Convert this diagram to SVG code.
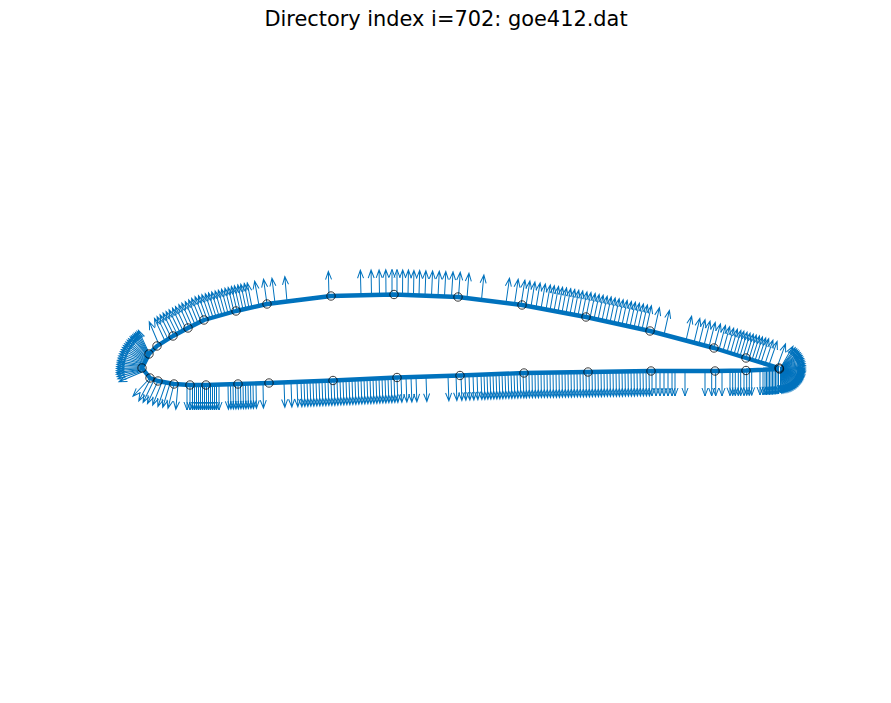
<svg xmlns="http://www.w3.org/2000/svg" width="891" height="703" viewBox="0 0 891 703">
<style>
text{font-family:"DejaVu Sans",sans-serif;font-size:20.9px;fill:#000}
.q{fill:none;stroke:#0072BD;stroke-width:1}
.c{fill:none;stroke:#0072BD;stroke-width:4.4;stroke-linejoin:round}
.m{fill:none;stroke:#000;stroke-width:.9;opacity:.85}
</style>
<defs>
<path id="u" d="M0 0V-25M-3-17L0-25 3-17"/>
<path id="d" d="M0 0V25M-3 17L0 25 3 17"/>
<g id="e1"><use href="#d" transform="rotate(-1)"/></g>
<g id="e2"><use href="#d" transform="rotate(-2)"/></g>
</defs>
<rect width="891" height="703" fill="#fff"/>
<text x="446" y="26" text-anchor="middle">Directory index i=702: goe412.dat</text>
<g id="arrows-upper-left" class="q">
<use href="#u" transform="translate(159 344.8)rotate(-23)"/>
<use href="#u" transform="translate(165 341)rotate(-25)"/>
<use href="#u" transform="translate(168 339.1)rotate(-26)"/>
<use href="#u" transform="translate(171 337.3)rotate(-26)"/>
<use href="#u" transform="translate(174 335.5)rotate(-26)"/>
<use href="#u" transform="translate(177 333.9)rotate(-26)"/>
<use href="#u" transform="translate(180 332.3)rotate(-26)"/>
<use href="#u" transform="translate(183 330.7)rotate(-25)"/>
<use href="#u" transform="translate(186 329.1)rotate(-25)"/>
<use href="#u" transform="translate(189 327.5)rotate(-24)"/>
<use href="#u" transform="translate(192 326)rotate(-24)"/>
<use href="#u" transform="translate(195 324.5)rotate(-23)"/>
<use href="#u" transform="translate(198 323)rotate(-22)"/>
<use href="#u" transform="translate(201 321.5)rotate(-22)"/>
<use href="#u" transform="translate(204 320)rotate(-21)"/>
<use href="#u" transform="translate(207 319.2)rotate(-20)"/>
<use href="#u" transform="translate(210 318.3)rotate(-19)"/>
<use href="#u" transform="translate(213 317.5)rotate(-18)"/>
<use href="#u" transform="translate(216 316.6)rotate(-17.5)"/>
<use href="#u" transform="translate(219 315.8)rotate(-17)"/>
<use href="#u" transform="translate(222 314.9)rotate(-16)"/>
<use href="#u" transform="translate(225 314.1)rotate(-15.5)"/>
<use href="#u" transform="translate(228 313.2)rotate(-15)"/>
<use href="#u" transform="translate(231 312.4)rotate(-14)"/>
<use href="#u" transform="translate(234 311.6)rotate(-13.5)"/>
<use href="#u" transform="translate(237 310.8)rotate(-13)"/>
<use href="#u" transform="translate(240 310.1)rotate(-13)"/>
<use href="#u" transform="translate(243 309.4)rotate(-12)"/>
<use href="#u" transform="translate(246 308.7)rotate(-12)"/>
<use href="#u" transform="translate(249 308)rotate(-11)"/>
<use href="#u" transform="translate(252 307.4)rotate(-11)"/>
<use href="#u" transform="translate(259 305.7)rotate(-10)"/>
<use href="#u" transform="translate(267 304)rotate(-8)"/>
<use href="#u" transform="translate(275 303)rotate(-7)"/>
<use href="#u" transform="translate(287 301.5)rotate(-5)"/>
<use href="#u" transform="translate(329 296.5)rotate(-1.5)"/>
</g>
<g id="arrows-upper-mid" class="q">
<use href="#u" transform="translate(361 295.2)rotate(-1.5)"/>
<use href="#u" transform="translate(371.5 295)rotate(-1)"/>
<use href="#u" transform="translate(379.5 294.8)rotate(-1)"/>
<use href="#u" transform="translate(386 294.7)rotate(-.5)"/>
<use href="#u" transform="translate(392 294.5)"/>
<use href="#u" transform="translate(397 294.6)"/>
<use href="#u" transform="translate(402.5 294.8)rotate(.5)"/>
<use href="#u" transform="translate(408 295)rotate(1)"/>
<use href="#u" transform="translate(413.5 295.3)rotate(1)"/>
<use href="#u" transform="translate(419 295.5)rotate(1.5)"/>
<use href="#u" transform="translate(425 295.7)rotate(2)"/>
<use href="#u" transform="translate(431.5 295.9)rotate(2.5)"/>
<use href="#u" transform="translate(438 296.2)rotate(3)"/>
<use href="#u" transform="translate(444.5 296.5)rotate(3)"/>
<use href="#u" transform="translate(451.5 296.8)rotate(3.5)"/>
<use href="#u" transform="translate(458.5 297.1)rotate(4)"/>
<use href="#u" transform="translate(467 298.1)rotate(4.5)"/>
<use href="#u" transform="translate(481.5 299.9)rotate(5.5)"/>
</g>
<g id="arrows-upper-right" class="q">
<use href="#u" transform="translate(506 303)rotate(8)"/>
<use href="#u" transform="translate(514.5 304)rotate(8.5)"/>
<use href="#u" transform="translate(521 304.8)rotate(9)"/>
<use href="#u" transform="translate(526 305.7)rotate(9)"/>
<use href="#u" transform="translate(531 306.7)rotate(9)"/>
<use href="#u" transform="translate(536 307.6)rotate(9.5)"/>
<use href="#u" transform="translate(541 308.6)rotate(10)"/>
<use href="#u" transform="translate(546 309.5)rotate(10)"/>
<use href="#u" transform="translate(550 310.3)rotate(10)"/>
<use href="#u" transform="translate(554 311)rotate(10.5)"/>
<use href="#u" transform="translate(558 311.8)rotate(10.5)"/>
<use href="#u" transform="translate(562 312.5)rotate(10.5)"/>
<use href="#u" transform="translate(566 313.2)rotate(11)"/>
<use href="#u" transform="translate(570 314)rotate(11)"/>
<use href="#u" transform="translate(574 314.8)rotate(11)"/>
<use href="#u" transform="translate(578 315.5)rotate(11)"/>
<use href="#u" transform="translate(582 316.3)rotate(11.5)"/>
<use href="#u" transform="translate(586 317)rotate(11.5)"/>
<use href="#u" transform="translate(590 317.9)rotate(12)"/>
<use href="#u" transform="translate(594 318.8)rotate(12)"/>
<use href="#u" transform="translate(598 319.6)rotate(12)"/>
<use href="#u" transform="translate(602 320.5)rotate(12)"/>
<use href="#u" transform="translate(606 321.4)rotate(12)"/>
<use href="#u" transform="translate(610 322.3)rotate(12)"/>
<use href="#u" transform="translate(614 323.1)rotate(12)"/>
<use href="#u" transform="translate(618 324)rotate(12)"/>
<use href="#u" transform="translate(622 324.9)rotate(12)"/>
<use href="#u" transform="translate(626 325.8)rotate(12.5)"/>
<use href="#u" transform="translate(630 326.6)rotate(12.5)"/>
<use href="#u" transform="translate(634 327.5)rotate(12.5)"/>
<use href="#u" transform="translate(638 328.4)rotate(12.5)"/>
<use href="#u" transform="translate(642 329.3)rotate(12.5)"/>
<use href="#u" transform="translate(646 330.1)rotate(12.5)"/>
<use href="#u" transform="translate(654 332.1)rotate(12.5)"/>
<use href="#u" transform="translate(664 334.8)rotate(12.5)"/>
<use href="#u" transform="translate(686 340.5)rotate(13)"/>
<use href="#u" transform="translate(694 342.6)rotate(13.5)"/>
<use href="#u" transform="translate(699 343.9)rotate(14)"/>
<use href="#u" transform="translate(704 345.3)rotate(14)"/>
<use href="#u" transform="translate(709 346.6)rotate(14.5)"/>
<use href="#u" transform="translate(714 348)rotate(15)"/>
<use href="#u" transform="translate(719 349.6)rotate(15)"/>
<use href="#u" transform="translate(723 350.8)rotate(15.5)"/>
<use href="#u" transform="translate(727 352.1)rotate(15.5)"/>
<use href="#u" transform="translate(730.5 353.2)rotate(16)"/>
<use href="#u" transform="translate(734 354.3)rotate(16)"/>
<use href="#u" transform="translate(737 355.2)rotate(16)"/>
<use href="#u" transform="translate(740 356.1)rotate(16.5)"/>
<use href="#u" transform="translate(743 357.1)rotate(16.5)"/>
<use href="#u" transform="translate(746 358)rotate(17)"/>
<use href="#u" transform="translate(749 358.9)rotate(17)"/>
<use href="#u" transform="translate(752 359.8)rotate(17.5)"/>
<use href="#u" transform="translate(755 360.7)rotate(17.5)"/>
<use href="#u" transform="translate(758 361.6)rotate(18)"/>
<use href="#u" transform="translate(761 362.5)rotate(18)"/>
<use href="#u" transform="translate(765 363.8)rotate(18.5)"/>
<use href="#u" transform="translate(769 365)rotate(19)"/>
<use href="#u" transform="translate(777 367.4)rotate(20)"/>
</g>
<g id="arrows-te-fan" class="q" transform="translate(780.5 368)">
<use href="#u" transform="rotate(30)"/><use href="#u" transform="rotate(36)"/><use href="#u" transform="rotate(40)"/><use href="#u" transform="rotate(44)"/><use href="#u" transform="rotate(48)"/><use href="#u" transform="rotate(52)"/><use href="#u" transform="rotate(56)"/><use href="#u" transform="rotate(60)"/><use href="#u" transform="rotate(64)"/><use href="#u" transform="rotate(68)"/><use href="#u" transform="rotate(72)"/><use href="#u" transform="rotate(76)"/><use href="#u" transform="rotate(80)"/><use href="#u" transform="rotate(84)"/><use href="#u" transform="rotate(88)"/><use href="#u" transform="rotate(92)"/><use href="#u" transform="rotate(95)"/><use href="#u" transform="rotate(98)"/><use href="#u" transform="rotate(101)"/><use href="#u" transform="rotate(104)"/><use href="#u" transform="rotate(107)"/><use href="#u" transform="rotate(110)"/><use href="#u" transform="rotate(112.5)"/><use href="#u" transform="rotate(115)"/><use href="#u" transform="rotate(117.5)"/><use href="#u" transform="rotate(120)"/><use href="#u" transform="rotate(122.5)"/><use href="#u" transform="rotate(125)"/><use href="#u" transform="rotate(127.5)"/><use href="#u" transform="rotate(130)"/><use href="#u" transform="rotate(132.5)"/><use href="#u" transform="rotate(135)"/><use href="#u" transform="rotate(137.5)"/><use href="#u" transform="rotate(140)"/><use href="#u" transform="rotate(142.5)"/><use href="#u" transform="rotate(145)"/><use href="#u" transform="rotate(147.5)"/><use href="#u" transform="rotate(150)"/><use href="#u" transform="rotate(152.5)"/><use href="#u" transform="rotate(155)"/><use href="#u" transform="rotate(157.5)"/><use href="#u" transform="rotate(160)"/><use href="#u" transform="rotate(162.5)"/><use href="#u" transform="rotate(165)"/><use href="#u" transform="rotate(167.5)"/><use href="#u" transform="rotate(170)"/><use href="#u" transform="rotate(172.5)"/><use href="#u" transform="rotate(175)"/><use href="#u" transform="rotate(177.5)"/><use href="#u" transform="rotate(180)"/>
</g>
<g id="arrows-le-fan" class="q">
<use href="#u" transform="translate(149 353)rotate(-25)"/>
<use href="#u" transform="translate(148.7 353.4)rotate(-28)"/>
<use href="#u" transform="translate(148.4 353.8)rotate(-31)"/>
<use href="#u" transform="translate(148.1 354.2)rotate(-34)"/>
<use href="#u" transform="translate(147.8 354.5)rotate(-37)"/>
<use href="#u" transform="translate(147.5 354.9)rotate(-40)"/>
<use href="#u" transform="translate(147.2 355.2)rotate(-43)"/>
<use href="#u" transform="translate(146.6 356)rotate(-46)"/>
<use href="#u" transform="translate(146.1 356.7)rotate(-49)"/>
<use href="#u" transform="translate(145.6 357.4)rotate(-52)"/>
<use href="#u" transform="translate(145.1 358.1)rotate(-55)"/>
<use href="#u" transform="translate(144.6 358.8)rotate(-58)"/>
<use href="#u" transform="translate(144.2 359.6)rotate(-61)"/>
<use href="#u" transform="translate(143.8 360.5)rotate(-64)"/>
<use href="#u" transform="translate(143.4 361.4)rotate(-67)"/>
<use href="#u" transform="translate(143 362.3)rotate(-70)"/>
<use href="#u" transform="translate(142.6 363.2)rotate(-73)"/>
<use href="#u" transform="translate(142.3 364.1)rotate(-76)"/>
<use href="#u" transform="translate(142 365)rotate(-79)"/>
<use href="#u" transform="translate(141.9 365.8)rotate(-82)"/>
<use href="#u" transform="translate(141.7 366.5)rotate(-85)"/>
<use href="#u" transform="translate(141.6 367.3)rotate(-88)"/>
<use href="#u" transform="translate(141.4 368)rotate(-91)"/>
<use href="#u" transform="translate(141.3 368.8)rotate(-94)"/>
<use href="#u" transform="translate(141.1 369.5)rotate(-97)"/>
<use href="#u" transform="translate(141 370)rotate(-100)"/>
<use href="#u" transform="translate(141.3 370.6)rotate(-104)"/>
<use href="#u" transform="translate(141.6 371.2)rotate(-108)"/>
<use href="#u" transform="translate(142 372)rotate(-113)"/>
</g>
<g id="arrows-lower" class="q">
<use href="#u" transform="translate(150 378)rotate(-137)"/>
<use href="#u" transform="translate(150.5 379)rotate(-152)"/>
<use href="#u" transform="translate(154 380)rotate(-154)"/>
<use href="#u" transform="translate(158 381)rotate(-155)"/>
<use href="#u" transform="translate(162 382)rotate(-158)"/>
<use href="#u" transform="translate(166 383)rotate(-161)"/>
<use href="#u" transform="translate(170 383.5)rotate(-163)"/>
<use href="#u" transform="translate(174 384)rotate(-166)"/>
<use href="#u" transform="translate(178 384.5)rotate(-175)"/>
<use href="#d" x="187" y="385"/><use href="#d" x="190" y="385"/><use href="#d" x="192.5" y="385"/><use href="#d" x="194.5" y="385"/><use href="#d" x="196.5" y="385"/><use href="#d" x="198.5" y="385"/><use href="#d" x="200.5" y="385"/><use href="#d" x="202.5" y="385"/><use href="#d" x="204.5" y="385"/><use href="#d" x="206.5" y="385"/><use href="#d" x="208.5" y="385"/><use href="#d" x="210.5" y="385"/><use href="#d" x="212.5" y="385"/><use href="#d" x="214.5" y="385"/><use href="#d" x="216.5" y="385"/><use href="#d" x="219" y="385"/>
<use href="#e1" x="228" y="384.3"/><use href="#e1" x="230.5" y="384.2"/><use href="#e1" x="233" y="384.2"/><use href="#e1" x="235.5" y="384.1"/><use href="#e1" x="238" y="384"/><use href="#e1" x="240.5" y="383.9"/><use href="#e1" x="243" y="383.8"/><use href="#e1" x="245.5" y="383.8"/><use href="#e1" x="248" y="383.7"/><use href="#e1" x="250.5" y="383.6"/><use href="#e1" x="253" y="383.5"/><use href="#e1" x="256" y="383.4"/><use href="#e1" x="263" y="383.2"/>
<use href="#e2" x="284" y="382.4"/><use href="#e2" x="291" y="382.1"/><use href="#e2" x="297" y="381.9"/><use href="#e2" x="301" y="381.8"/><use href="#e2" x="304" y="381.6"/><use href="#e2" x="307" y="381.5"/><use href="#e2" x="310" y="381.4"/><use href="#e2" x="313" y="381.3"/><use href="#e2" x="316" y="381.2"/><use href="#e2" x="319" y="381"/><use href="#e2" x="322" y="380.9"/><use href="#e2" x="325" y="380.8"/><use href="#e2" x="328" y="380.7"/><use href="#e2" x="331" y="380.6"/><use href="#e2" x="334" y="380.5"/><use href="#e2" x="337" y="380.3"/><use href="#e2" x="340" y="380.2"/><use href="#e2" x="343" y="380"/><use href="#e2" x="346" y="379.9"/><use href="#e2" x="349" y="379.8"/><use href="#e2" x="352" y="379.6"/><use href="#e2" x="355" y="379.5"/><use href="#e2" x="358" y="379.3"/><use href="#e2" x="361" y="379.2"/><use href="#e2" x="364" y="379"/><use href="#e2" x="367" y="378.9"/><use href="#e2" x="370" y="378.8"/><use href="#e2" x="373" y="378.6"/><use href="#e2" x="376" y="378.5"/><use href="#e2" x="379" y="378.3"/><use href="#e2" x="382" y="378.2"/><use href="#e2" x="385" y="378.1"/><use href="#e2" x="388" y="377.9"/><use href="#e2" x="391" y="377.8"/><use href="#e2" x="394" y="377.6"/><use href="#e2" x="397" y="377.5"/><use href="#e2" x="401" y="377.4"/><use href="#e2" x="406" y="377.2"/><use href="#e2" x="411" y="377.1"/><use href="#e2" x="416" y="376.9"/><use href="#e2" x="426" y="376.6"/>
<use href="#e2" x="448" y="375.9"/><use href="#e2" x="456" y="375.6"/><use href="#e2" x="461" y="375.5"/><use href="#e2" x="465" y="375.3"/><use href="#e2" x="469" y="375.2"/><use href="#e2" x="473" y="375"/><use href="#e2" x="477" y="374.8"/><use href="#e2" x="481" y="374.7"/><use href="#e2" x="484" y="374.6"/><use href="#e2" x="487" y="374.4"/><use href="#e2" x="490" y="374.3"/><use href="#e2" x="493" y="374.2"/><use href="#e2" x="496" y="374.1"/><use href="#e2" x="499" y="374"/><use href="#e2" x="502" y="373.9"/><use href="#e2" x="505" y="373.7"/><use href="#e2" x="508" y="373.6"/><use href="#e2" x="511" y="373.5"/><use href="#e2" x="514" y="373.4"/><use href="#e2" x="517" y="373.3"/><use href="#e2" x="520" y="373.2"/><use href="#e2" x="523" y="373"/>
<use href="#e1" x="526" y="373"/><use href="#e1" x="529" y="372.9"/><use href="#e1" x="532" y="372.9"/><use href="#e1" x="535" y="372.8"/><use href="#e1" x="538" y="372.8"/><use href="#e1" x="541" y="372.7"/><use href="#e1" x="544" y="372.7"/><use href="#e1" x="547" y="372.6"/><use href="#e1" x="550" y="372.6"/><use href="#e1" x="553" y="372.6"/><use href="#e1" x="556" y="372.5"/><use href="#e1" x="559" y="372.5"/><use href="#e1" x="562" y="372.4"/><use href="#e1" x="565" y="372.4"/><use href="#e1" x="568" y="372.3"/><use href="#e1" x="571" y="372.3"/><use href="#e1" x="574" y="372.2"/><use href="#e1" x="577" y="372.2"/><use href="#e1" x="580" y="372.1"/><use href="#e1" x="583" y="372.1"/><use href="#e1" x="586" y="372"/><use href="#e1" x="589" y="372"/><use href="#e1" x="592" y="371.9"/><use href="#e1" x="595" y="371.9"/><use href="#e1" x="598" y="371.8"/><use href="#e1" x="601" y="371.8"/><use href="#e1" x="604" y="371.7"/><use href="#e1" x="607" y="371.7"/><use href="#e1" x="610" y="371.7"/><use href="#e1" x="613" y="371.6"/><use href="#e1" x="616" y="371.6"/><use href="#e1" x="619" y="371.5"/><use href="#e1" x="622" y="371.5"/><use href="#e1" x="625" y="371.4"/><use href="#e1" x="628" y="371.4"/><use href="#e1" x="631" y="371.3"/><use href="#e1" x="634" y="371.3"/><use href="#e1" x="637" y="371.2"/><use href="#e1" x="640" y="371.2"/><use href="#e1" x="643" y="371.1"/><use href="#e1" x="646" y="371.1"/><use href="#e1" x="649" y="371.1"/>
<use href="#d" x="652" y="371"/><use href="#d" x="656" y="371"/><use href="#d" x="660" y="371"/><use href="#d" x="664" y="371"/><use href="#d" x="668" y="371"/><use href="#d" x="672" y="371"/><use href="#d" x="675" y="371"/><use href="#d" x="685" y="371"/>
<use href="#d" x="705" y="371"/><use href="#d" x="711.7" y="371"/><use href="#d" x="715.7" y="371"/><use href="#d" x="722" y="371"/>
<use href="#d" x="730" y="370.7"/><use href="#d" x="732.7" y="370.7"/><use href="#d" x="735.3" y="370.7"/><use href="#d" x="738.3" y="370.7"/><use href="#d" x="740.7" y="370.7"/><use href="#d" x="744" y="370.7"/><use href="#d" x="746.7" y="370.5"/><use href="#d" x="749.3" y="370.5"/><use href="#d" x="751.7" y="370.4"/>
<use href="#d" x="760" y="370"/><use href="#d" x="763" y="370"/><use href="#d" x="765" y="369.8"/><use href="#d" x="766.5" y="369.8"/><use href="#d" x="768" y="369.6"/><use href="#d" x="769.5" y="369.6"/><use href="#d" x="771" y="369.5"/><use href="#d" x="772.5" y="369.4"/><use href="#d" x="774" y="369.3"/><use href="#d" x="775.5" y="369.2"/><use href="#d" x="777" y="369.1"/><use href="#d" x="778.5" y="369"/>
</g>
<path id="airfoil" class="c" d="M779 368L746 358 714 348 650 331 586 317 522 305 458 297 394 294.5 331 296 267 304 236 311 204 320 188 328 173 336 157 346 149 354 142 368 150 378 158 381 174 384 190 385 206 385 238 384 269 383 333 380.5 397 377.5 460 375.5 524 373 588 372 651 371 715 371 746 370.5 779 369"/>
<g id="points" class="m">
<circle cx="779" cy="368" r="4.2"/><circle cx="779.5" cy="369" r="4.2"/><circle cx="746" cy="358" r="4.2"/><circle cx="714" cy="348" r="4.2"/><circle cx="650" cy="331" r="4.2"/><circle cx="586" cy="317" r="4.2"/><circle cx="522" cy="305" r="4.2"/><circle cx="458" cy="297" r="4.2"/><circle cx="394" cy="294.5" r="4.2"/><circle cx="331" cy="296" r="4.2"/><circle cx="267" cy="304" r="4.2"/><circle cx="236" cy="311" r="4.2"/><circle cx="204" cy="320" r="4.2"/><circle cx="188" cy="328" r="4.2"/><circle cx="173" cy="336" r="4.2"/><circle cx="157" cy="346" r="4.2"/><circle cx="149" cy="354" r="4.2"/><circle cx="142" cy="368" r="4.2"/><circle cx="150" cy="378" r="4.2"/><circle cx="158" cy="381" r="4.2"/><circle cx="174" cy="384" r="4.2"/><circle cx="190" cy="385" r="4.2"/><circle cx="206" cy="385" r="4.2"/><circle cx="238" cy="384" r="4.2"/><circle cx="269" cy="383" r="4.2"/><circle cx="333" cy="380.5" r="4.2"/><circle cx="397" cy="377.5" r="4.2"/><circle cx="460" cy="375.5" r="4.2"/><circle cx="524" cy="373" r="4.2"/><circle cx="588" cy="372" r="4.2"/><circle cx="651" cy="371" r="4.2"/><circle cx="715" cy="371" r="4.2"/><circle cx="746" cy="370.5" r="4.2"/>
</g>
</svg>
